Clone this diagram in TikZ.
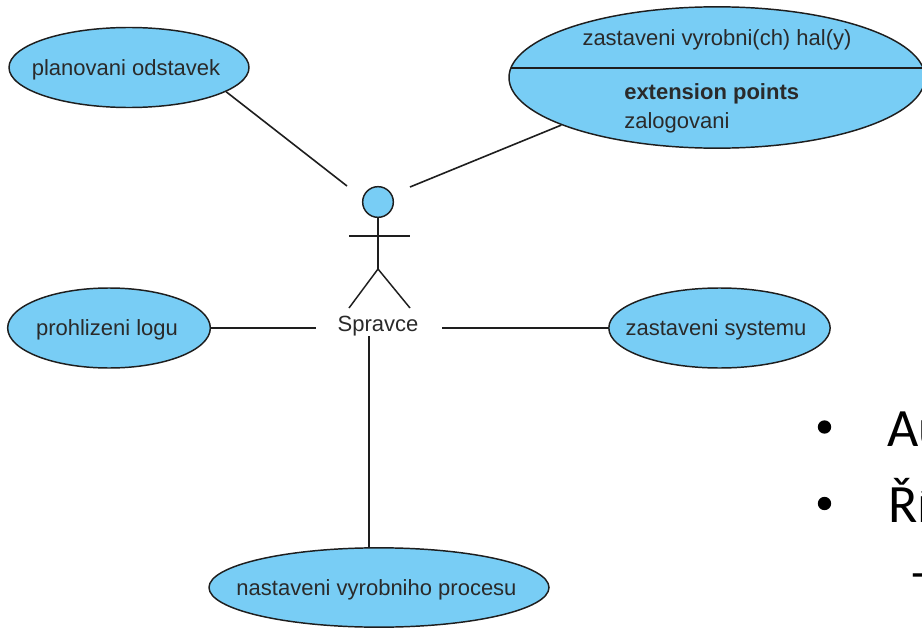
\documentclass[tikz,border=0pt]{standalone}
\usepackage{fontspec}
\setmainfont{Liberation Sans}
\newfontfamily\slidefont{Carlito}
\usetikzlibrary{shapes.geometric}
\definecolor{ucfill}{HTML}{78CDF5}
\definecolor{ucline}{HTML}{1E1E1E}
\definecolor{uctext}{HTML}{2A2A2A}
\tikzset{
  usecase/.style={ellipse,draw=ucline,fill=ucfill,line width=1.1pt,inner sep=0pt},
  label text/.style={inner sep=0pt,text=uctext,font=\fontsize{16.5}{19}\selectfont},
  assoc/.style={draw=ucline,line width=1.2pt},
  stick/.style={draw=ucline,line width=1.1pt},
  slide text/.style={inner sep=0pt,anchor=base west,text=black,font=\slidefont\fontsize{40.5}{48}\selectfont},
  bullet dot/.style={circle,fill=black,inner sep=0pt,minimum size=10pt}
}
\begin{document}
\begin{tikzpicture}[x=0.75pt,y=-0.75pt]
\clip (0,0) rectangle (922,628);
\fill[white] (0,0) rectangle (922,628);
% use cases
\node[usecase,minimum width=180pt,minimum height=60pt] (plan) at (129,67.5) {};
\node[label text] (planT) at (126,69.5) {planovani odstavek};
\node[usecase,minimum width=152pt,minimum height=60pt] (prohl) at (109,328) {};
\node[label text] (prohlT) at (107,329.5) {prohlizeni logu};
\node[usecase,minimum width=166pt,minimum height=60pt] (sys) at (719.5,328) {};
\node[label text] (sysT) at (716,329.5) {zastaveni systemu};
\node[usecase,minimum width=255pt,minimum height=59.5pt] (proc) at (379,587.5) {};
\node[label text] (procT) at (376.5,589.5) {nastaveni vyrobniho procesu};
\node[usecase,minimum width=312pt,minimum height=106pt] (hala) at (717,77.5) {};
\coordinate (sepL) at (511,68);
\coordinate (sepR) at (925,68);
\draw[stick] (sepL) -- (sepR);
\node[label text] (halaT) at (717,39.5) {zastaveni vyrobni(ch) hal(y)};
\node[label text,anchor=base west,font=\fontsize{16.5}{19}\selectfont\bfseries] (ext) at (624,99) {extension points};
\node[label text,anchor=base west] (zal) at (624,128) {zalogovani};
% actor
\node[circle,draw=ucline,fill=ucfill,line width=1.1pt,inner sep=0pt,minimum size=23pt] (head) at (378,202) {};
\coordinate (hip) at (378,269);
\coordinate (armL) at (349,236);
\coordinate (armR) at (410,236);
\coordinate (legL) at (349,308);
\coordinate (legR) at (410,308);
\draw[stick] (head.south) -- (hip);
\draw[stick] (armL) -- (armR);
\draw[stick] (legL) -- (hip) -- (legR);
\node[label text] (actor) at (378,326) {Spravce};
% connector free ends
\coordinate (endPlan) at (347,186);
\coordinate (endHala) at (410,187);
\coordinate (endProhl) at (316,328);
\coordinate (endSys) at (442,328);
\coordinate (endProc) at (369,336);
\draw[assoc] (plan.-14) -- (endPlan);
\draw[assoc] (hala.197.2) -- (endHala);
\draw[assoc] (prohl.east) -- (endProhl);
\draw[assoc] (sys.west) -- (endSys);
\coordinate (procTop) at (369,548);
\draw[assoc] (procTop) -- (endProc);
% slide text behind the diagram
\node[bullet dot] (b1) at (824.5,427) {};
\node[bullet dot] (b2) at (824.5,503.5) {};
\node[slide text] (t1) at (887,446) {Au};
\node[slide text] (t2) at (888,522) {Ří};
\node[slide text] (t3) at (909,590) {–};
\end{tikzpicture}
\end{document}
